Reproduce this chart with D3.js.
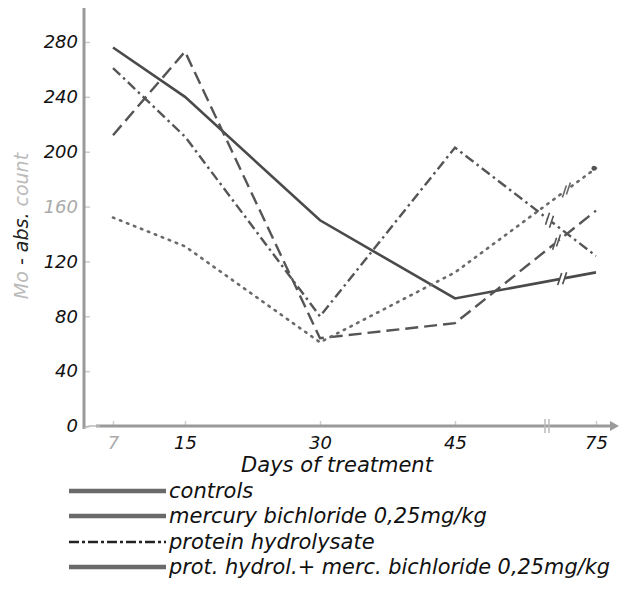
<!DOCTYPE html>
<html>
<head>
<meta charset="utf-8">
<script src="https://cdn.jsdelivr.net/npm/d3@7/dist/d3.min.js"></script>
<style>
  body { margin: 0; background: #fff; }
  svg text { font-family: "DejaVu Sans", sans-serif; font-style: italic; }
</style>
</head>
<body>
<div id="chart"></div>
<script>
// days of treatment and Mo-abs. counts
var days = [7, 15, 30, 45, 75];
var dayLabels = ["7", "15", "30", "45", "75"];
var yTicks = [0, 40, 80, 120, 160, 200, 240, 280];

var controls = [276, 240, 150, 93, 112];   // solid
var mercury  = [212, 273, 64, 75, 157];    // dashed
var protein  = [261, 211, 80, 203, 124];   // dash-dot
var combo    = [152, 131, 61, 112, 188];   // dotted

var legendLabels = ["controls", "mercury bichloride 0,25mg/kg",
                    "protein hydrolysate", "prot. hydrol.+ merc. bichloride 0,25mg/kg"];

var width = 619, height = 593;

var svg = d3.select("#chart").append("svg")
    .attr("width", width)
    .attr("height", height);

// x axis has a break between 45 and 75, so piecewise scale
var x = d3.scaleLinear().domain([7, 45, 75]).range([113, 455, 596]);
var y = d3.scaleLinear().domain([0, 280]).range([426, 42]);

var axisColor = "#9a9a9a";

// y axis
var yAxis = svg.append("g")
    .attr("transform", "translate(84,0)")
    .call(d3.axisLeft(y).tickValues(yTicks).tickSize(-6).tickPadding(6));
yAxis.select(".domain").remove();
yAxis.selectAll(".tick line").attr("stroke", "#ccc").attr("stroke-width", 1.5);
yAxis.selectAll(".tick text")
    .attr("font-size", 18)
    .attr("fill", function(d) { return d == 160 ? "#aaa" : "#111"; });

svg.append("line")
    .attr("x1", 84).attr("x2", 84)
    .attr("y1", 8).attr("y2", 429)
    .attr("stroke", axisColor).attr("stroke-width", 3);

// x axis
var xAxis = svg.append("g")
    .attr("transform", "translate(0,426)")
    .call(d3.axisBottom(x).tickValues(days).tickFormat(function(d, i) { return dayLabels[i]; })
        .tickSize(-5).tickPadding(10));
xAxis.select(".domain").remove();
xAxis.selectAll(".tick line").attr("stroke", "#ccc").attr("stroke-width", 1.5);
xAxis.selectAll(".tick text")
    .attr("font-size", 18)
    .attr("fill", function(d) { return d == 7 ? "#aaa" : "#111"; });

svg.append("line")
    .attr("x1", 96).attr("x2", 612)
    .attr("y1", 426).attr("y2", 426)
    .attr("stroke", axisColor).attr("stroke-width", 3);
svg.append("path")
    .attr("d", "M610,421 L619,426 L610,431 Z")
    .attr("fill", axisColor);
svg.append("path")
    .attr("d", "M84,428 L90,426 L100,426")
    .attr("fill", "none").attr("stroke", "#bbb").attr("stroke-width", 1.5);

// axis break marks on x axis
[-2, 2].forEach(function(o) {
    svg.append("line")
        .attr("x1", 547 + o).attr("x2", 547 + o)
        .attr("y1", 419).attr("y2", 433)
        .attr("stroke", "#bbb").attr("stroke-width", 1.5);
});

// axis titles
svg.append("text")
    .attr("x", 337).attr("y", 472)
    .attr("text-anchor", "middle")
    .attr("font-size", 21)
    .attr("fill", "#111")
    .text("Days of treatment");

var yTitle = svg.append("text")
    .attr("transform", "translate(28,226) rotate(-90)")
    .attr("text-anchor", "middle")
    .attr("font-size", 19);
yTitle.append("tspan").attr("fill", "#bbb").text("Mo");
yTitle.append("tspan").attr("fill", "#222").text(" - abs.");
yTitle.append("tspan").attr("fill", "#bbb").text(" count");

// series
var series = [
    { values: controls, dash: null, color: "#4a4a4a", w: 2.6, t: 0.76 },
    { values: mercury,  dash: "13,6", color: "#555", w: 2.4, t: 0.72 },
    { values: protein,  dash: "10,4,2.5,4", color: "#555", w: 2.4, t: 0.67 },
    { values: combo,    dash: "1.5,6", color: "#6a6a6a", w: 2.6, t: 0.79 }
];

var line = d3.line()
    .x(function(d) { return x(d[0]); })
    .y(function(d) { return y(d[1]); });

series.forEach(function(s) {
    var pts = days.map(function(d, i) { return [d, s.values[i]]; });
    svg.append("path")
        .datum(pts)
        .attr("d", line)
        .attr("fill", "none")
        .attr("stroke", s.color)
        .attr("stroke-width", s.w)
        .attr("stroke-linecap", s.dash && s.dash.indexOf("1.5") == 0 ? "round" : "butt")
        .attr("stroke-dasharray", s.dash);

    // "//" break mark on the 45 -> 75 segment
    var x0 = x(45), y0 = y(s.values[3]), x1 = x(75), y1 = y(s.values[4]);
    var bx = x0 + (x1 - x0) * s.t, by = y0 + (y1 - y0) * s.t;
    var len = Math.sqrt((x1 - x0) * (x1 - x0) + (y1 - y0) * (y1 - y0));
    var ux = (x1 - x0) / len, uy = (y1 - y0) / len;
    svg.append("circle")
        .attr("cx", bx).attr("cy", by).attr("r", 3)
        .attr("fill", "#fff");
    [-2.5, 2.5].forEach(function(o) {
        var cx = bx + ux * o, cy = by + uy * o;
        svg.append("line")
            .attr("x1", cx - 2).attr("y1", cy + 6)
            .attr("x2", cx + 2).attr("y2", cy - 6)
            .attr("stroke", s.color).attr("stroke-width", 1.6);
    });
});

// end dot of dotted series
svg.append("circle")
    .attr("cx", x(75) - 2).attr("cy", y(combo[4]))
    .attr("r", 2.5).attr("fill", "#555");

// legend
var legendY = [491, 516, 542, 567];
var legendDash = [null, null, "10,3,3,3", null];
legendLabels.forEach(function(lab, i) {
    svg.append("line")
        .attr("x1", 69).attr("x2", 166)
        .attr("y1", legendY[i]).attr("y2", legendY[i])
        .attr("stroke", i == 2 ? "#222" : "#6a6a6a")
        .attr("stroke-width", i == 2 ? 2.5 : 4.5)
        .attr("stroke-dasharray", legendDash[i]);
    var t = svg.append("text")
        .attr("x", 169).attr("y", legendY[i] + 7)
        .attr("font-size", 21)
        .attr("fill", "#111")
        .text(lab);
    if (i == 3) {
        // squeeze the long last entry to the reference width
        t.attr("textLength", 441).attr("lengthAdjust", "spacingAndGlyphs");
    }
});
</script>
</body>
</html>
